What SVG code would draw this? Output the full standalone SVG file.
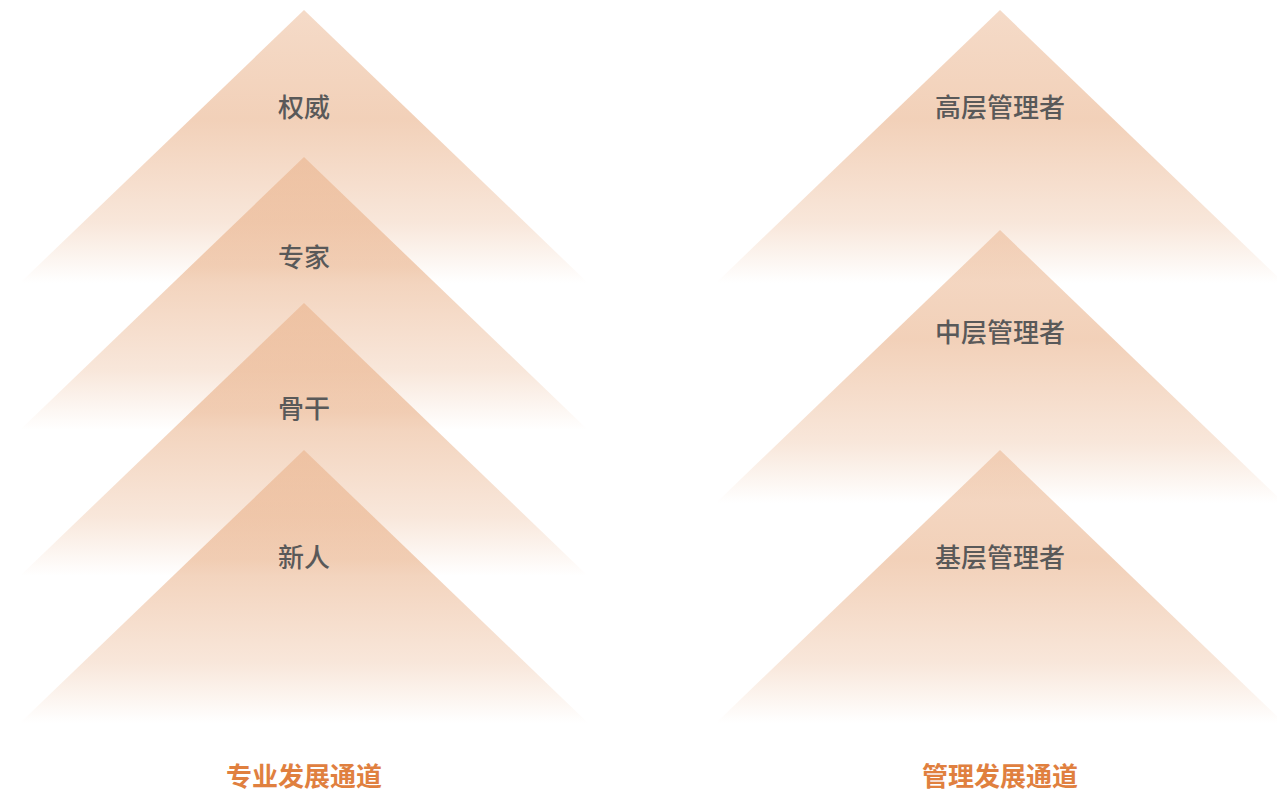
<svg xmlns="http://www.w3.org/2000/svg" width="1277" height="792" viewBox="0 0 1277 792">
  <defs>
    <linearGradient id="fade" x1="0" y1="0" x2="0" y2="1">
      <stop offset="0" stop-color="#e39a66" stop-opacity="0.36"/>
      <stop offset="0.4" stop-color="#e39a66" stop-opacity="0.46"/>
      <stop offset="0.78" stop-color="#e39a66" stop-opacity="0.24"/>
      <stop offset="1" stop-color="#e39a66" stop-opacity="0"/>
    </linearGradient>
    <style>
      .tri { fill: url(#fade); }
      .lbl { font-family: "Noto Sans CJK SC", "Noto Sans", sans-serif; font-size: 26px; font-weight: 500; fill: #595959; text-anchor: middle; dominant-baseline: central; }
      .cap { font-family: "Noto Sans CJK SC", "Noto Sans", sans-serif; font-size: 26px; font-weight: 700; fill: #e0803f; text-anchor: middle; dominant-baseline: central; }
    </style>
  </defs>
  <rect width="1277" height="792" fill="#ffffff"/>

  <g id="node-quanwei">
    <polygon class="tri" points="304,10 588,283 20,283"/>
    <text class="lbl" x="304" y="105">权威</text>
  </g>
  <g id="node-zhuanjia">
    <polygon class="tri" points="304,157 588,430 20,430"/>
    <text class="lbl" x="304" y="255">专家</text>
  </g>
  <g id="node-gugan">
    <polygon class="tri" points="304,303 588,576 20,576"/>
    <text class="lbl" x="304" y="406">骨干</text>
  </g>
  <g id="node-xinren">
    <polygon class="tri" points="304,450 588,723 20,723"/>
    <text class="lbl" x="304" y="555">新人</text>
  </g>

  <g id="node-gaoceng">
    <polygon class="tri" points="1000,10 1284,283 716,283"/>
    <text class="lbl" x="1000" y="105">高层管理者</text>
  </g>
  <g id="node-zhongceng">
    <polygon class="tri" points="1000,230 1284,503 716,503"/>
    <text class="lbl" x="1000" y="330">中层管理者</text>
  </g>
  <g id="node-jiceng">
    <polygon class="tri" points="1000,450 1284,723 716,723"/>
    <text class="lbl" x="1000" y="555">基层管理者</text>
  </g>

  <g id="caption-left">
    <text class="cap" x="304" y="774">专业发展通道</text>
  </g>
  <g id="caption-right">
    <text class="cap" x="1000" y="774">管理发展通道</text>
  </g>
  <g id="connectors"/>
</svg>
